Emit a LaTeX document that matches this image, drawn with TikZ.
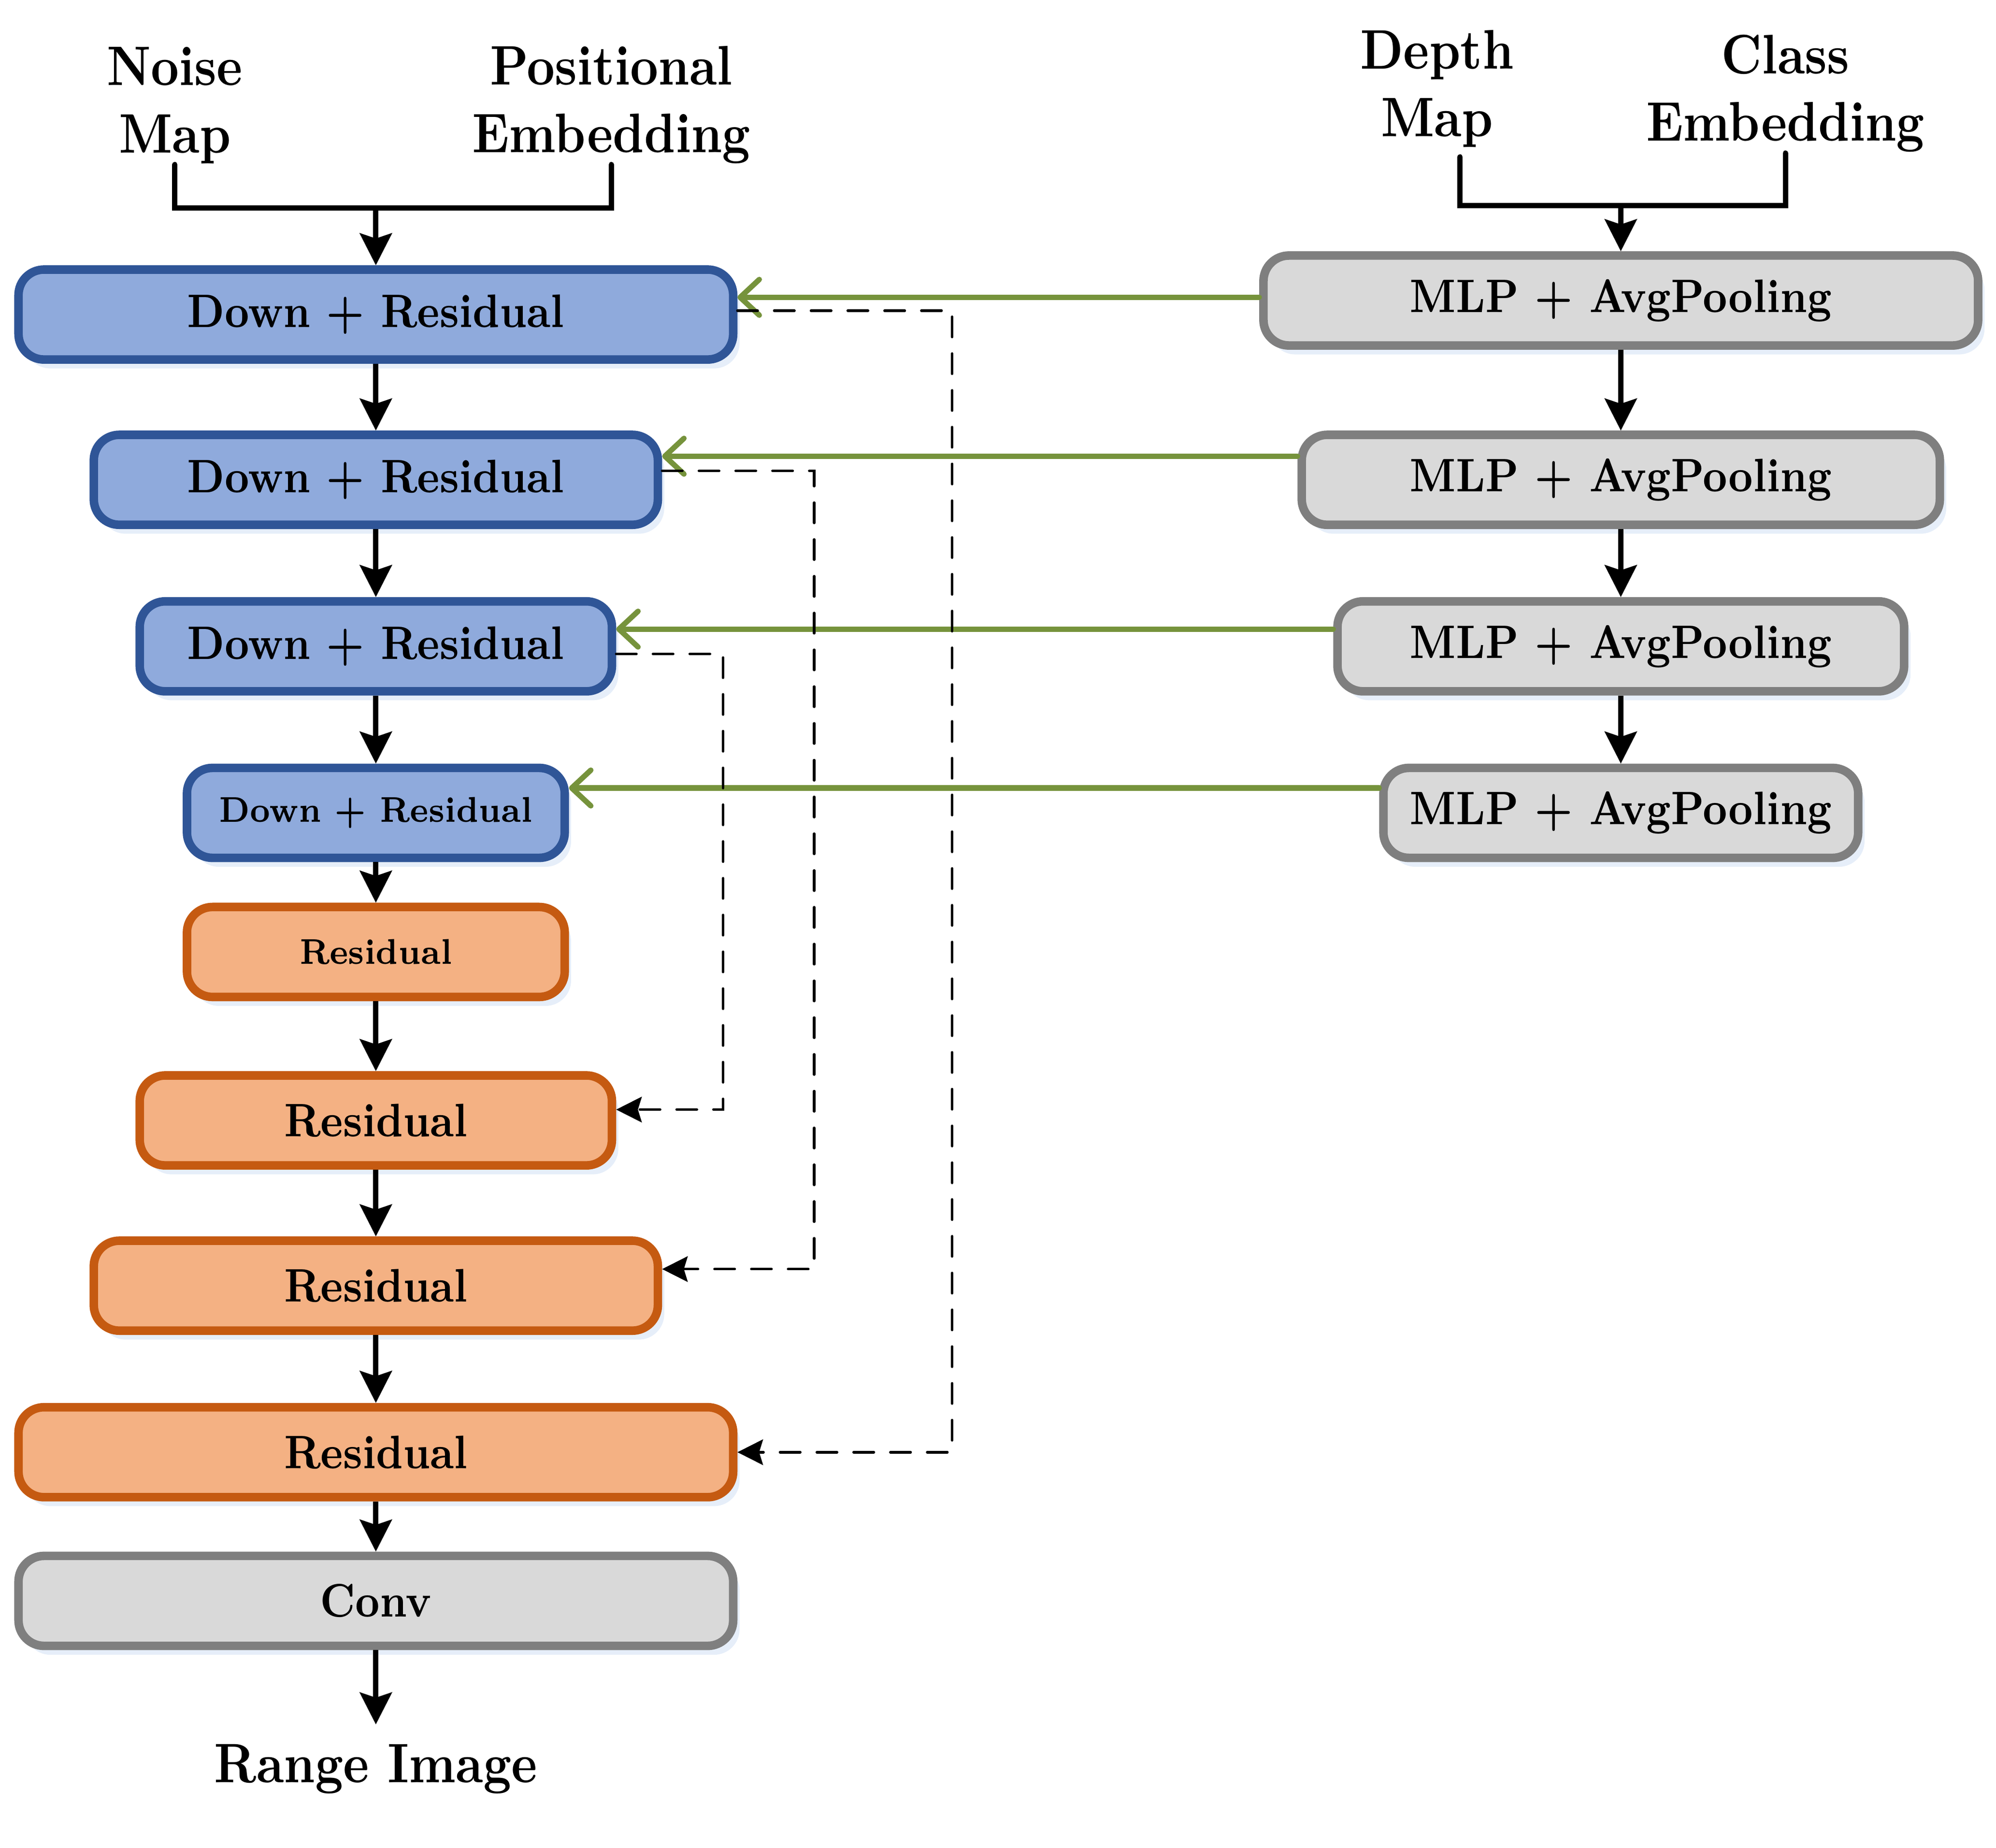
\documentclass[tikz,border=0pt]{standalone}
\usepackage{graphicx}
\usepackage{tikz}
\usetikzlibrary{shapes,arrows.meta,shadows}

\definecolor{downfill}{HTML}{8FAADC}
\definecolor{downline}{HTML}{2F5597}
\definecolor{resfill}{HTML}{F4B183}
\definecolor{resline}{HTML}{C55A11}
\definecolor{mlpfill}{HTML}{D9D9D9}
\definecolor{mlpline}{HTML}{7F7F7F}
\definecolor{condline}{RGB}{118,147,60}
\definecolor{glow}{RGB}{205,222,243}

\newcommand{\tx}[1]{\scalebox{1}[1.14]{#1}}

\tikzset{
  block/.style={shape=rectangle,rounded corners=0.2cm,align=center,line width=1.9pt,minimum height=0.705cm,
    font=\fontsize{9.2}{11}\selectfont\bfseries,
    drop shadow={shadow xshift=0.05cm,shadow yshift=-0.07cm,fill=glow,opacity=0.5}},
  down/.style={block,draw=downline,fill=downfill},
  res/.style={block,draw=resline,fill=resfill},
  mlp/.style={block,draw=mlpline,fill=mlpfill},
  smalltext/.style={font=\fontsize{7.0}{9}\selectfont\bfseries},
  iotext/.style={align=center,inner sep=0pt,font=\fontsize{10.9}{15.05}\selectfont\bfseries},
  bracket/.style={draw=black,line width=1.2pt,line cap=round},
  flow/.style={-{Stealth[length=0.25cm,width=0.25cm,inset=0.04cm]},color=black,line width=1.2pt},
  skip/.style={-{Stealth[length=0.2cm,width=0.2cm,inset=0.03cm]},draw=black,line width=0.58pt,
    dash pattern=on 4.5pt off 3.7pt,line cap=round},
  cond/.style={-{Straight Barb[length=0.15cm,width=0.28cm,round]},color=condline,line width=1.2pt,line cap=round},
}

\begin{document}
\begin{tikzpicture}
\useasboundingbox (0,0) rectangle (15.64,14.48);
\node[iotext,anchor=south] (0) at (1.37,13.19) {\tx{Noise}\\\tx{Map}};
\node[iotext,anchor=south] (1) at (4.79,13.19) {\tx{Positional}\\\tx{Embedding}};
\node[iotext,anchor=south] (2) at (11.26,13.32) {\tx{Depth}\\\tx{Map}};
\node[iotext,anchor=south] (3) at (13.99,13.28) {\tx{Class}\\\tx{Embedding}};

\node[down,minimum width=5.60cm] (4) at (2.945,12.015) {\tx{Down + Residual}};
\node[down,minimum width=4.42cm] (5) at (2.945,10.72) {\tx{Down + Residual}};
\node[down,minimum width=3.70cm] (6) at (2.945,9.415) {\tx{Down + Residual}};
\node[down,smalltext,minimum width=2.96cm] (7) at (2.945,8.11) {\tx{Down + Residual}};
\node[res,smalltext,minimum width=2.96cm] (8) at (2.945,7.02) {\tx{Residual}};
\node[res,minimum width=3.70cm] (9) at (2.945,5.70) {\tx{Residual}};
\node[res,minimum width=4.42cm] (10) at (2.945,4.405) {\tx{Residual}};
\node[res,minimum width=5.60cm] (11) at (2.945,3.10) {\tx{Residual}};
\node[mlp,minimum width=5.60cm] (12) at (2.945,1.935) {\tx{Conv}};
\node[iotext,anchor=base,inner sep=0.15cm] (13) at (2.945,0.51) {\tx{Range Image}};

\node[mlp,minimum width=5.60cm] (14) at (12.70,12.125) {\tx{MLP + AvgPooling}};
\node[mlp,minimum width=5.00cm] (15) at (12.70,10.72) {\tx{MLP + AvgPooling}};
\node[mlp,minimum width=4.44cm] (16) at (12.70,9.415) {\tx{MLP + AvgPooling}};
\node[mlp,minimum width=3.72cm] (17) at (12.70,8.11) {\tx{MLP + AvgPooling}};

\coordinate (j1) at (2.945,12.85);
\coordinate (j2) at (12.70,12.87);
\coordinate (s1) at (7.46,7.0);
\coordinate (s2) at (6.38,7.0);
\coordinate (s3) at (5.665,7.0);

\draw[bracket] (0.south) |- (j1) -| (1.south);
\draw[bracket] ([shift={(0.18,-0.07)}]2.south) |- (j2) -| (3.south);

\path [flow] (j1) edge node {} (4);
\path [flow] (4) edge node {} (5);
\path [flow] (5) edge node {} (6);
\path [flow] (6) edge node {} (7);
\path [flow] (7) edge node {} (8);
\path [flow] (8) edge node {} (9);
\path [flow] (9) edge node {} (10);
\path [flow] (10) edge node {} (11);
\path [flow] (11) edge node {} (12);
\path [flow] (12) edge node {} (13);

\path [flow] (j2) edge node {} (14);
\path [flow] (14) edge node {} (15);
\path [flow] (15) edge node {} (16);
\path [flow] (16) edge node {} (17);

\path [cond] ([yshift=0.025cm]14.west) edge node {} ([yshift=0.025cm]14.west -| 4.east);
\path [cond] ([yshift=0.185cm]15.west) edge node {} ([yshift=0.185cm]15.west -| 5.east);
\path [cond] ([yshift=0.135cm]16.west) edge node {} ([yshift=0.135cm]16.west -| 6.east);
\path [cond] ([yshift=0.195cm]17.west) edge node {} ([yshift=0.195cm]17.west -| 7.east);

\draw [skip] ([yshift=0.03cm]4.east) -| (s1) |- (11.east);
\draw [skip] ([yshift=0.07cm]5.east) -| (s2) |- ([yshift=0.13cm]10.east);
\draw [skip] ([yshift=-0.06cm]6.east) -| (s3) |- ([yshift=0.085cm]9.east);
\end{tikzpicture}
\end{document}
